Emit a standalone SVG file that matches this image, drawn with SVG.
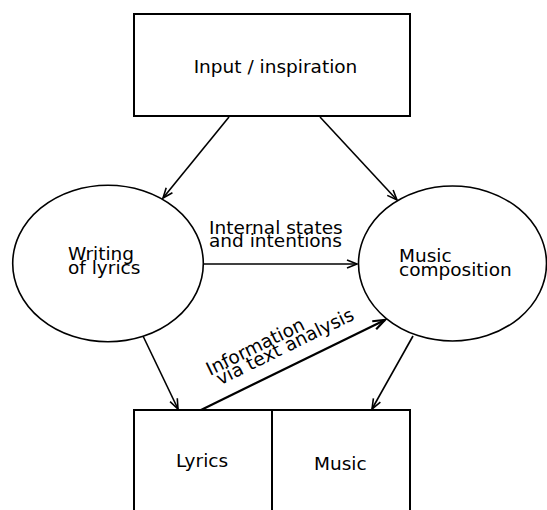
<svg xmlns="http://www.w3.org/2000/svg" width="547" height="510" viewBox="0 0 547 510">
<style>
text{font-family:"DejaVu Sans","Liberation Sans",sans-serif;font-size:18.5px;fill:#000}
.box{fill:#fff;stroke:#000;stroke-width:2}
.ell{fill:#fff;stroke:#000;stroke-width:1.6}
.edge{fill:none;stroke:#000;stroke-width:1.6}
.thick{fill:none;stroke:#000;stroke-width:2.2}
</style>
<defs>
<marker id="ah" markerUnits="userSpaceOnUse" markerWidth="14" markerHeight="12" refX="11" refY="5" orient="auto" overflow="visible">
<path d="M1,1 L11,5 L1,9" fill="none" stroke="#000" stroke-width="1.6"/>
</marker>
<marker id="ah2" markerUnits="userSpaceOnUse" markerWidth="16" markerHeight="12" refX="12" refY="5" orient="auto" overflow="visible">
<path d="M0,0.5 L12,5 L0,9.5" fill="none" stroke="#000" stroke-width="2.2"/>
</marker>
</defs>
<rect width="547" height="510" fill="#fff"/>
<g id="connectors">
<line class="edge" x1="229" y1="117" x2="163" y2="198" marker-end="url(#ah)"/>
<line class="edge" x1="320" y1="117" x2="397" y2="200" marker-end="url(#ah)"/>
<line class="edge" x1="203" y1="264" x2="357" y2="264" marker-end="url(#ah)"/>
<line class="edge" x1="143" y1="336" x2="178" y2="409" marker-end="url(#ah)"/>
<line class="edge" x1="413" y1="336" x2="372" y2="409" marker-end="url(#ah)"/>
<line class="thick" x1="201" y1="410" x2="385" y2="320" marker-end="url(#ah2)"/>
<text x="209" y="233.5">Internal states</text>
<text x="209" y="246.5">and intentions</text>
<g transform="translate(210,376) rotate(-26.2)">
<text x="0" y="0">Information</text>
<text x="5" y="13">via text analysis</text>
</g>
</g>
<g id="input">
<rect class="box" x="134" y="14" width="276" height="102"/>
<text x="275.5" y="73" text-anchor="middle">Input / inspiration</text>
</g>
<g id="writing">
<ellipse class="ell" cx="108" cy="263.5" rx="95.3" ry="78.3"/>
<text x="68" y="260">Writing</text>
<text x="68" y="273.5">of lyrics</text>
</g>
<g id="composition">
<ellipse class="ell" cx="452.5" cy="263.5" rx="94" ry="77.5"/>
<text x="399" y="262">Music</text>
<text x="399" y="275.5">composition</text>
</g>
<g id="lyrics">
<rect class="box" x="134" y="410" width="138" height="110"/>
<text x="176" y="467">Lyrics</text>
</g>
<g id="music">
<rect class="box" x="272" y="410" width="138" height="110"/>
<text x="314" y="470">Music</text>
</g>
</svg>
